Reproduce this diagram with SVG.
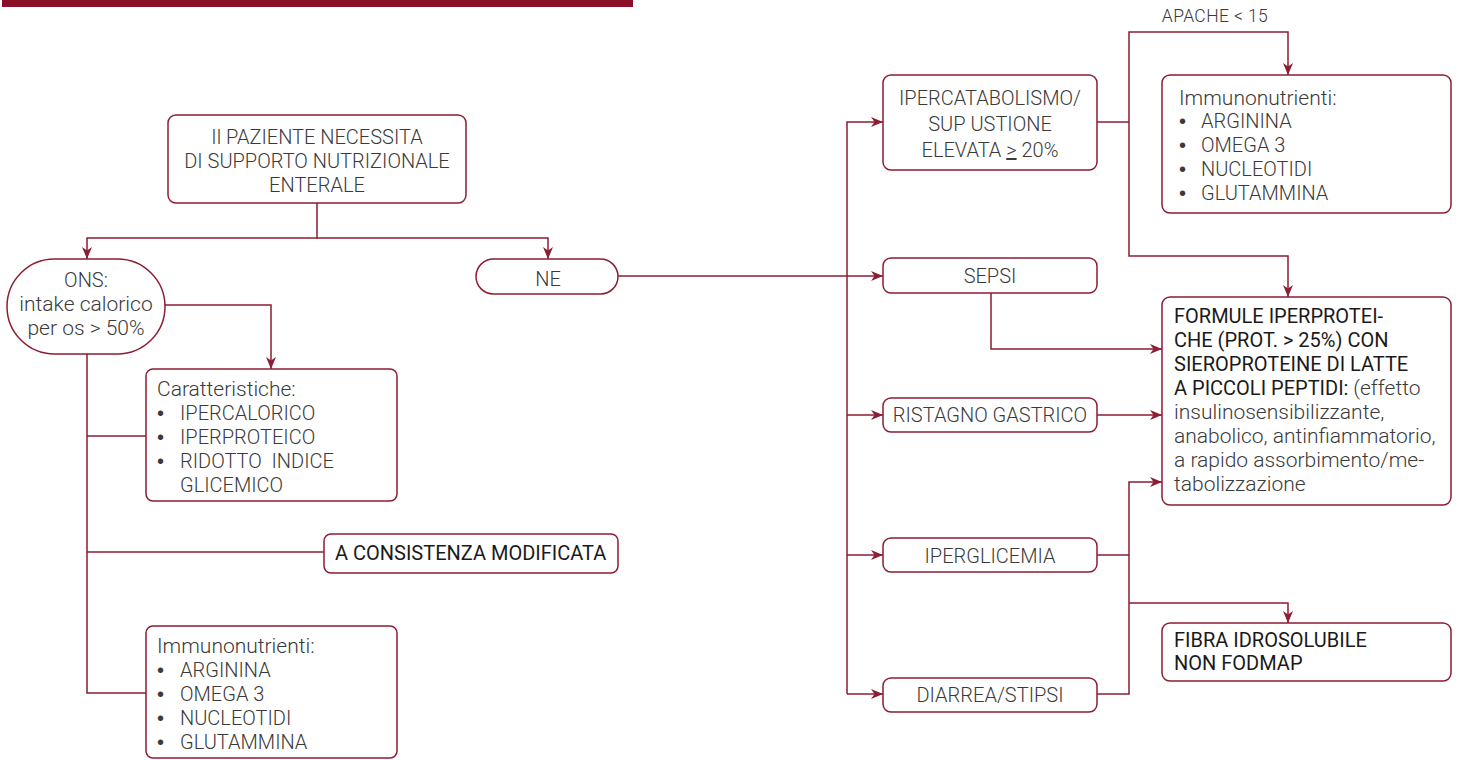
<svg xmlns="http://www.w3.org/2000/svg" width="1459" height="760" viewBox="0 0 1459 760">
<style>
.box{fill:#fff;stroke:#8d1d33;stroke-width:1.5}
.ln{fill:none;stroke:#8d1d33;stroke-width:1.5}
.arr{marker-end:url(#ah)}
text{font-family:Roboto,"Liberation Sans",Arial,sans-serif;fill:#3a3a3a;font-weight:300}
.c{font-size:20px;text-anchor:middle}
.l{font-size:20px}
.lc{font-size:21px}
.m{font-weight:400;fill:#1a1a1a}
.b{font-family:"Liberation Sans",Arial,sans-serif;font-size:20px;font-weight:400;fill:#3a3a3a}
.s{font-size:17.5px;letter-spacing:0.4px}
</style>
<defs>
<marker id="ah" viewBox="0 0 12 10" refX="12" refY="5" markerWidth="12" markerHeight="10" markerUnits="userSpaceOnUse" orient="auto">
<path d="M0,0 L12,5 L0,10 L3.5,5 z" fill="#8d1d33"/>
</marker>
</defs>
<rect x="2" y="0" width="631" height="7" fill="#8c0f29"/>

<g id="connectors">
<path class="ln arr" d="M317,203 V238 H87 V259"/>
<path class="ln arr" d="M317,238 H548 V259"/>
<path class="ln arr" d="M165,305 H271 V369"/>
<path class="ln" d="M87,354 V693 H146"/>
<path class="ln" d="M87,436 H146"/>
<path class="ln" d="M87,552 H324"/>
<path class="ln arr" d="M618,276 H883"/>
<path class="ln arr" d="M847,694 V122 H883"/>
<path class="ln arr" d="M847,415 H883"/>
<path class="ln arr" d="M847,555 H883"/>
<path class="ln arr" d="M847,694 H883"/>
<path class="ln" d="M1097,122 H1129"/>
<path class="ln arr" d="M1129,122 V32 H1288 V75"/>
<path class="ln arr" d="M1129,122 V256 H1288 V297"/>
<path class="ln arr" d="M991,293 V349 H1162"/>
<path class="ln arr" d="M1097,415 H1162"/>
<path class="ln" d="M1097,555 H1129"/>
<path class="ln arr" d="M1097,694 H1129 V482 H1162"/>
<path class="ln arr" d="M1129,603 H1288 V623"/>
</g>

<text class="s" x="1215" y="22" text-anchor="middle">APACHE &lt; 15</text>

<g id="start">
<rect class="box" x="168" y="115" width="298" height="88" rx="8"/>
<text class="c" x="317" y="144">Il PAZIENTE NECESSITA</text>
<text class="c" x="317" y="168">DI SUPPORTO NUTRIZIONALE</text>
<text class="c" x="317" y="192">ENTERALE</text>
</g>

<g id="ons">
<rect class="box" x="7" y="259" width="158" height="95" rx="47.5"/>
<text class="c" x="86" y="287">ONS:</text>
<text class="c lc" x="86" y="311">intake calorico</text>
<text class="c lc" x="86" y="335">per os &gt; 50%</text>
</g>

<g id="ne">
<rect class="box" x="476" y="259" width="142" height="35" rx="17.5"/>
<text class="c" x="548" y="286">NE</text>
</g>

<g id="caratteristiche">
<rect class="box" x="146" y="369" width="251" height="132" rx="7"/>
<text class="lc" x="157" y="396">Caratteristiche:</text>
<text class="b" x="157" y="420">•</text><text class="l" x="180" y="420">IPERCALORICO</text>
<text class="b" x="157" y="444">•</text><text class="l" x="180" y="444">IPERPROTEICO</text>
<text class="b" x="157" y="468">•</text><text class="l" x="180" y="468" style="white-space:pre">RIDOTTO  INDICE</text>
<text class="l" x="180" y="492">GLICEMICO</text>
</g>

<g id="consistenza">
<rect class="box" x="324" y="534" width="294" height="39" rx="7"/>
<text class="l m" x="335" y="560">A CONSISTENZA MODIFICATA</text>
</g>

<g id="immuno-left">
<rect class="box" x="146" y="626" width="251" height="132" rx="7"/>
<text class="lc" x="157" y="653">Immunonutrienti:</text>
<text class="b" x="157" y="677">•</text><text class="l" x="180" y="677">ARGININA</text>
<text class="b" x="157" y="701">•</text><text class="l" x="180" y="701">OMEGA 3</text>
<text class="b" x="157" y="725">•</text><text class="l" x="180" y="725">NUCLEOTIDI</text>
<text class="b" x="157" y="749">•</text><text class="l" x="180" y="749">GLUTAMMINA</text>
</g>

<g id="ipercatabolismo">
<rect class="box" x="883" y="75" width="214" height="95" rx="8"/>
<text class="c" x="990" y="105">IPERCATABOLISMO/</text>
<text class="c" x="990" y="131">SUP USTIONE</text>
<text class="c" x="990" y="157">ELEVATA <tspan text-decoration="underline">&gt;</tspan> 20%</text>
</g>

<g id="immuno-right">
<rect class="box" x="1162" y="75" width="289" height="138" rx="8"/>
<text class="lc" x="1179" y="105">Immunonutrienti:</text>
<text class="b" x="1179" y="128">•</text><text class="l" x="1201" y="128">ARGININA</text>
<text class="b" x="1179" y="152">•</text><text class="l" x="1201" y="152">OMEGA 3</text>
<text class="b" x="1179" y="176">•</text><text class="l" x="1201" y="176">NUCLEOTIDI</text>
<text class="b" x="1179" y="200">•</text><text class="l" x="1201" y="200">GLUTAMMINA</text>
</g>

<g id="sepsi">
<rect class="box" x="883" y="258" width="214" height="35" rx="8"/>
<text class="c" x="990" y="283">SEPSI</text>
</g>

<g id="formule">
<rect class="box" x="1162" y="297" width="289" height="208" rx="8"/>
<text class="l m" x="1174" y="323">FORMULE IPERPROTEI-</text>
<text class="l m" x="1174" y="347">CHE (PROT. &gt; 25%) CON</text>
<text class="l m" x="1174" y="371">SIEROPROTEINE DI LATTE</text>
<text class="l" x="1174" y="395"><tspan class="m">A PICCOLI PEPTIDI:</tspan> <tspan class="lc">(effetto</tspan></text>
<text class="lc" x="1174" y="419">insulinosensibilizzante,</text>
<text class="lc" x="1174" y="443">anabolico, antinfiammatorio,</text>
<text class="lc" x="1174" y="467">a rapido assorbimento/me-</text>
<text class="lc" x="1174" y="491">tabolizzazione</text>
</g>

<g id="ristagno">
<rect class="box" x="883" y="398" width="214" height="34" rx="8"/>
<text class="c" x="990" y="422">RISTAGNO GASTRICO</text>
</g>

<g id="iperglicemia">
<rect class="box" x="883" y="538" width="214" height="34" rx="8"/>
<text class="c" x="990" y="563">IPERGLICEMIA</text>
</g>

<g id="fibra">
<rect class="box" x="1162" y="623" width="289" height="58" rx="8"/>
<text class="l m" x="1174" y="647">FIBRA IDROSOLUBILE</text>
<text class="l m" x="1174" y="670">NON FODMAP</text>
</g>

<g id="diarrea">
<rect class="box" x="883" y="678" width="214" height="34" rx="8"/>
<text class="c" x="990" y="702">DIARREA/STIPSI</text>
</g>
</svg>
